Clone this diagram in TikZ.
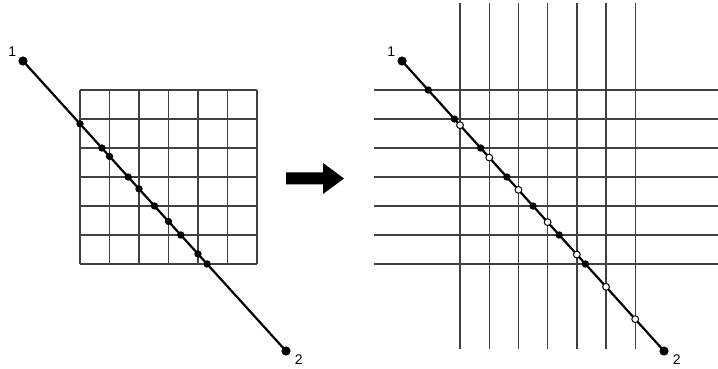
\documentclass[tikz,border=0pt]{standalone}
\usepackage{fontspec}
\setmainfont{Liberation Sans}
\usetikzlibrary{positioning}

\begin{document}
\begin{tikzpicture}[x=0.5pt, y=-0.5pt,
  gridline/.style={draw=black!75, line width=0.7pt},
  diag/.style={draw=black, line width=1.1pt},
  endpt/.style={circle, fill=black, inner sep=0pt, minimum size=4.6pt},
  hit/.style={circle, fill=black, inner sep=0pt, minimum size=3.7pt},
  miss/.style={circle, draw=black, fill=white, line width=0.5pt,
               inner sep=0pt, minimum size=3.4pt},
  lbl/.style={font=\fontsize{7}{8}\selectfont, inner sep=0pt},
]
\useasboundingbox (0,0) rectangle (718,369);

% ---- Before: bounded mesh ----
\foreach \i in {0,...,6} {
  \draw[gridline] (80+29.5*\i,90) -- (80+29.5*\i,264);
  \draw[gridline] (80,90+29*\i) -- (257,90+29*\i);
}

% ray 1 -> 2
\node[endpt] (l1) at (23,61) {};
\node[endpt] (l2) at (286,351) {};
\draw[diag] (l1.center) -- (l2.center);
\node[lbl, above left=0.5pt and 1.5pt of l1] (l1lbl) {1};
\node[lbl, below right=0pt and 2.5pt of l2] (l2lbl) {2};

% crossings inside the mesh
\foreach \gx [count=\k] in {80,109.5,139,168.5,198}
  \node[hit] (lv\k) at (intersection of l1--l2 and \gx,0--\gx,1) {};
\foreach \gy [count=\k] in {148,177,206,235,264}
  \node[hit] (lh\k) at (intersection of l1--l2 and 0,\gy--1,\gy) {};

% ---- Arrow ----
\fill (286,172.5) -- (323,172.5) -- (323,163) -- (344,178.5)
  -- (323,194) -- (323,184.5) -- (286,184.5) -- cycle;

% ---- After: extended planes ----
\foreach \i in {0,...,6} {
  \draw[gridline] (460+29.2*\i,3) -- (460+29.2*\i,349);
  \draw[gridline] (374,90+29*\i) -- (718,90+29*\i);
}

% ray 1 -> 2
\node[endpt] (r1) at (402,61) {};
\node[endpt] (r2) at (664,351) {};
\draw[diag] (r1.center) -- (r2.center);
\node[lbl, above left=0.5pt and 1.5pt of r1] (r1lbl) {1};
\node[lbl, below right=0pt and 2.5pt of r2] (r2lbl) {2};

% crossings with horizontal planes (filled)
\foreach \i [evaluate=\i as \gy using 90+29*\i] in {0,...,6}
  \node[hit] (rh\i) at (intersection of r1--r2 and 0,\gy--1,\gy) {};
% crossings with vertical planes (open)
\foreach \i [evaluate=\i as \gx using 460+29.2*\i] in {0,...,6}
  \node[miss] (rv\i) at (intersection of r1--r2 and \gx,0--\gx,1) {};

\end{tikzpicture}
\end{document}
